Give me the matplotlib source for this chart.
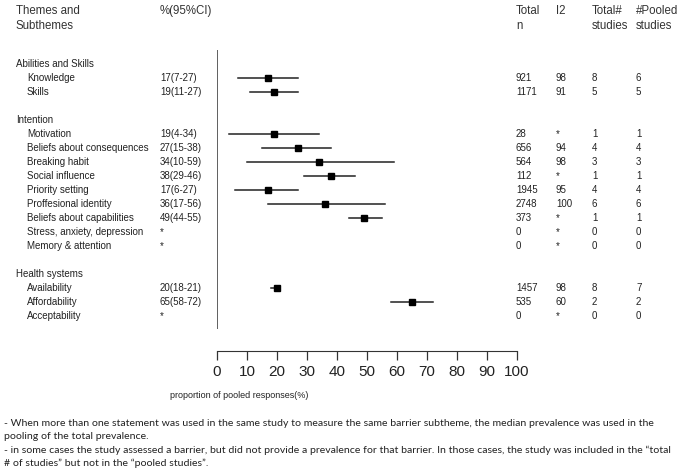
import matplotlib
matplotlib.use("Agg")
import matplotlib.pyplot as plt
import matplotlib.transforms as mtransforms

# ============================
# Data
# ============================
themes = ["Abilities and Skills", "Intention", "Health systems"]
subthemes = [
    ["Knowledge", "Skills"],
    ["Motivation", "Beliefs about consequences", "Breaking habit", "Social influence",
     "Priority setting", "Proffesional identity", "Beliefs about capabilities",
     "Stress, anxiety, depression", "Memory & attention"],
    ["Availability", "Affordability", "Acceptability"],
]
# None = not pooled (shown as *)
estimate = [[17, 19], [19, 27, 34, 38, 17, 36, 49, None, None], [20, 65, None]]
ci_low = [[7, 11], [4, 15, 10, 29, 6, 17, 44, None, None], [18, 58, None]]
ci_high = [[27, 27], [34, 38, 59, 46, 27, 56, 55, None, None], [21, 72, None]]
total_n = [[921, 1171], [28, 656, 564, 112, 1945, 2748, 373, 0, 0], [1457, 535, 0]]
i2 = [["98", "91"], ["*", "94", "98", "*", "95", "100", "*", "*", "*"], ["98", "60", "*"]]
total_studies = [[8, 5], [1, 4, 3, 1, 4, 6, 1, 0, 0], [8, 2, 0]]
pooled_studies = [[6, 5], [1, 4, 3, 1, 4, 6, 1, 0, 0], [7, 2, 0]]

x_ticks = list(range(0, 101, 10))

footnote_lines = [
    "- When more than one statement was used in the same study to measure the same barrier subtheme, "
    "the median prevalence was used in the",
    "pooling of the total prevalence.",
    "- in some cases the study assessed a barrier, but did not provide a prevalence for that barrier. "
    "In those cases, the study was included in the \u201ctotal",
    "# of studies\u201d but not in the \u201cpooled studies\u201d.",
]

# ============================
# Figure layout (pixel based)
# ============================
W, H = 687, 472
fig = plt.figure(figsize=(W / 100, H / 100), dpi=100)
plt.rcParams['font.family'] = ['Liberation Sans', 'DejaVu Sans']

def fx(px):
    return px / W

def fy(py):
    return 1 - py / H

row0_px, row_h = 64, 14
top_px, bot_px = 50, 329
ax = fig.add_axes([fx(217), fy(bot_px), fx(517) - fx(217), fy(top_px) - fy(bot_px)])
ax.set_xlim(0, 100)
ax.set_ylim((bot_px - row0_px) / row_h, (top_px - row0_px) / row_h)

for s in ["top", "right", "left"]:
    ax.spines[s].set_visible(False)
ax.spines["bottom"].set_position(("outward", 16))
ax.spines["bottom"].set_bounds(0, 100)
ax.spines["bottom"].set_color("#333333")
ax.set_yticks([])
ax.set_xticks(x_ticks)
ax.tick_params(axis="x", direction="out", length=6.5, width=0.9, color="#333333",
               labelsize=11, pad=3.5, labelcolor="#222222")
ax.axvline(0, color="#444444", lw=1.2)

trans = mtransforms.blended_transform_factory(fig.transFigure, ax.transData)
txt = dict(fontsize=7, color="#222222", va="center", transform=trans)

# Column headers
hdr = dict(fontsize=8.3, color="#333333", va="center")
fig.text(fx(16), fy(11), "Themes and", **hdr)
fig.text(fx(16), fy(26), "Subthemes", **hdr)
fig.text(fx(160), fy(11), "%(95%CI)", **hdr)
fig.text(fx(516), fy(11), "Total", **hdr)
fig.text(fx(516), fy(26), "n", **hdr)
fig.text(fx(556), fy(11), "I2", **hdr)
fig.text(fx(592), fy(11), "Total#", **hdr)
fig.text(fx(592), fy(26), "studies", **hdr)
fig.text(fx(636), fy(11), "#Pooled", **hdr)
fig.text(fx(636), fy(26), "studies", **hdr)

# ============================
# Rows
# ============================
row = 0
for t, theme in enumerate(themes):
    ax.text(fx(16), row, theme, **txt)
    row += 1
    for k, name in enumerate(subthemes[t]):
        ax.text(fx(27), row, name, **txt)
        est = estimate[t][k]
        if est is None:
            ax.text(fx(160), row, "*", **txt)
        else:
            ax.text(fx(160), row, f"{est}({ci_low[t][k]}-{ci_high[t][k]})", **txt)
            ax.plot([ci_low[t][k], ci_high[t][k]], [row, row], color="#222222", lw=1.1)
            ax.plot(est, row, marker="s", color="black", ms=5)
        ax.text(fx(516), row, str(total_n[t][k]), **txt)
        ax.text(fx(556), row, i2[t][k], **txt)
        ax.text(fx(592), row, str(total_studies[t][k]), **txt)
        ax.text(fx(636), row, str(pooled_studies[t][k]), **txt)
        row += 1
    row += 1

fig.text(fx(170), fy(395), "proportion of pooled responses(%)", fontsize=6.5,
         color="#222222", va="center")

for i, line in enumerate(footnote_lines):
    fig.text(fx(4), fy(423 + 13.4 * i), line, fontsize=7.55, family=["Lato", "DejaVu Sans"],
             color="#222222", va="center")

fig.savefig("out.png", dpi=100, facecolor="white")
